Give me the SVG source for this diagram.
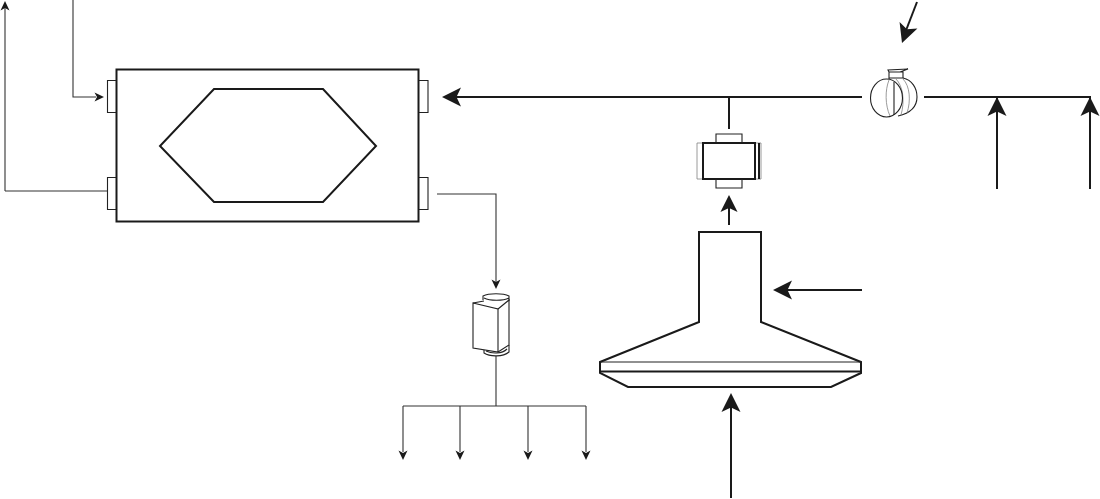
<svg xmlns="http://www.w3.org/2000/svg" width="1100" height="499" viewBox="0 0 1100 499">
<style>
.s{fill:none;stroke:#1a1a1a;stroke-width:2;stroke-miterlimit:10}
.n{fill:none;stroke:#222;stroke-width:1.1}
.g{fill:none;stroke:#808080;stroke-width:.8}
.c{fill:none;stroke:#1a1a1a;stroke-width:2}
.t{fill:none;stroke:#333;stroke-width:1.1}
.h{fill:#1a1a1a;stroke:none}
</style>
<defs>
<path id="big" d="M0 0L9.500 19L0 14.500L-9.500 19Z" class="h"/>
<path id="small" d="M0 0L4.500 9.500L0 7L-4.500 9.500Z" class="h"/>
</defs>
<g id="hrv">
<rect x="116.500" y="69.500" width="302" height="152" class="s"/>
<path d="M214 89H323L376 146L323 202H214L160 146Z" class="s"/>
</g>
<g id="port-top-left"><path d="M116 80.500H107.500V112.500H116" class="n"/></g>
<g id="port-bottom-left"><path d="M116 177.500H107.500V209.500H116" class="n"/></g>
<g id="port-top-right"><path d="M419 80.500H428V112.500H419" class="n"/></g>
<g id="port-bottom-right"><path d="M419 177.500H428V209.500H419" class="n"/></g>
<g id="damper">
<path d="M889 78H903C912 80 917 88 917 97C917 107 911 113 898 116" fill="#fff" class="n"/>
<path d="M896 79C903 86 905 101 901 115M903 79C910 86 911 101 907 113" class="g"/>
<path d="M889 79V72H903V78M889 72L888 70L908 69L900 72" class="n"/>
<ellipse cx="886.500" cy="98" rx="16" ry="19" fill="#fff" class="n" stroke-width="1.300"/>
<path d="M894 82V115" class="n"/><path d="M889 80C885 90 885 105 890 116" class="g"/>
</g>
<g id="fan">
<path d="M703 143H697V179H703M755 143H761V179H755" class="g" stroke-width="1"/>
<path d="M759 143V179" class="s" stroke-width="1.200"/>
<rect x="703" y="143" width="52" height="36" class="s"/>
<path d="M716 143V134H742V143M716 179V188H742V179" class="n"/>
</g>
<g id="box">
<path d="M473 303L498 309V352L473 348Z" class="n"/>
<path d="M473 303L484 301M498 309L509 300V345L498 352" class="n"/>
<path d="M483 300V296C489 293 503 293 509 296V301M484 298C490 301 503 301 509 298" class="n"/>
<path d="M484 350V353C490 357 503 357 509 352V345M486 351C492 354 502 354 507 349" class="n"/>
</g>
<g id="hood">
<path d="M699 232H761V322L861 362V373L831 387H628L600 373V362L699 322Z" class="s"/>
<path d="M600 362H861" class="n" stroke-width="1.300"/>
<path d="M600 371.500H861" class="s"/>
</g>
<g id="connectors">
<path d="M5 191V3M107 191H5" class="t"/><use href="#small" x="5" y="1"/>
<path d="M73 0V97H96" class="t"/><use href="#small" transform="translate(104 97) rotate(90)"/>
<path d="M437 194H496V282" class="t"/><use href="#small" transform="translate(496 289) rotate(180)"/>
<path d="M496 356V406M403 406H586M403 406V452M460 406V452M528 406V452M586 406V452" class="t"/>
<use href="#small" transform="translate(403 460) rotate(180)"/><use href="#small" transform="translate(460 460) rotate(180)"/><use href="#small" transform="translate(528 460) rotate(180)"/><use href="#small" transform="translate(586 460) rotate(180)"/>
<path d="M862 97H452M729 97V129" class="c"/><use href="#big" transform="translate(442 97) rotate(-90)"/>
<path d="M924 97H1090V189M997 97V189" class="c"/>
<use href="#big" x="997" y="97"/><use href="#big" x="1090" y="97"/>
<path d="M917 2L905 33" class="c"/><use href="#big" transform="translate(902 43) rotate(200)"/>
<path d="M729 225V205" class="c"/><use href="#big" transform="translate(729 195) scale(.9)"/>
<path d="M862 290H785" class="c"/><use href="#big" transform="translate(773 290) rotate(-90)"/>
<path d="M731 498V405" class="c"/><use href="#big" x="731" y="393"/>
</g>
</svg>
